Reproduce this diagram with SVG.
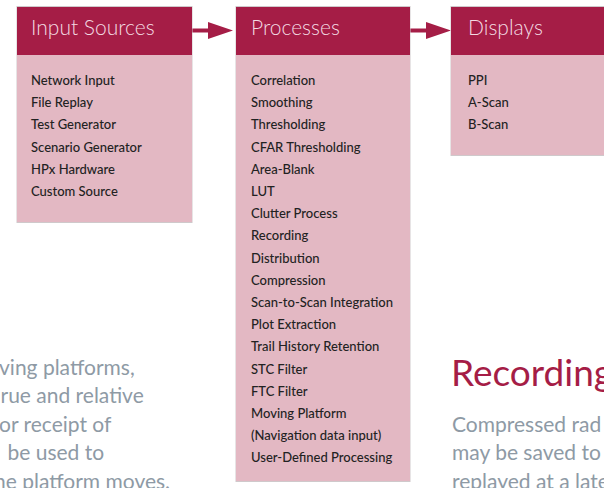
<svg xmlns="http://www.w3.org/2000/svg" width="604" height="488" viewBox="0 0 604 488">
<style>
.shadow{fill:#cfc9cb}
.hdr{fill:#a51d46}
.body{fill:#e3b8c3}
.ht{font-family:Lato,"Liberation Sans",sans-serif;font-weight:300;font-size:21px;fill:#f3dbe2}
.it{font-family:Lato,"Liberation Sans",sans-serif;font-weight:500;font-size:13px;fill:#222}
.conn{stroke:#a51d46;stroke-width:4;fill:none}
.head{fill:#a51d46}
.para{font-family:Lato,"Liberation Sans",sans-serif;font-size:21px;fill:#8e9aa5}
.h2{font-family:Lato,"Liberation Sans",sans-serif;font-size:37px;fill:#a51d46}
</style>
<rect width="604" height="488" fill="#fff"/>
<g id="connectors">
<line class="conn" x1="192" y1="30.5" x2="209" y2="30.5"/>
<polygon class="head" points="208,22 233,30.5 208,39"/>
<line class="conn" x1="410" y1="30.5" x2="427" y2="30.5"/>
<polygon class="head" points="426,22 451,30.5 426,39"/>
</g>
<g id="input-sources">
<rect class="shadow" x="16.5" y="6" width="176" height="217"/>
<rect class="hdr" x="17" y="7" width="175" height="48"/>
<rect class="body" x="17" y="55" width="175" height="167"/>
<text class="ht" x="31" y="35">Input Sources</text>
<text class="it" x="31" y="85">Network Input</text>
<text class="it" x="31" y="107.2">File Replay</text>
<text class="it" x="31" y="129.4">Test Generator</text>
<text class="it" x="31" y="151.6">Scenario Generator</text>
<text class="it" x="31" y="173.8">HPx Hardware</text>
<text class="it" x="31" y="196">Custom Source</text>
</g>
<g id="processes">
<rect class="shadow" x="235.5" y="6" width="175" height="476"/>
<rect class="hdr" x="236" y="7" width="174" height="48"/>
<rect class="body" x="236" y="55" width="174" height="426"/>
<text class="ht" x="251" y="35">Processes</text>
<text class="it" x="251" y="85">Correlation</text>
<text class="it" x="251" y="107.2">Smoothing</text>
<text class="it" x="251" y="129.4">Thresholding</text>
<text class="it" x="251" y="151.6">CFAR Thresholding</text>
<text class="it" x="251" y="173.8">Area-Blank</text>
<text class="it" x="251" y="196">LUT</text>
<text class="it" x="251" y="218.2">Clutter Process</text>
<text class="it" x="251" y="240.4">Recording</text>
<text class="it" x="251" y="262.6">Distribution</text>
<text class="it" x="251" y="284.8">Compression</text>
<text class="it" x="251" y="307">Scan-to-Scan Integration</text>
<text class="it" x="251" y="329.2">Plot Extraction</text>
<text class="it" x="251" y="351.4">Trail History Retention</text>
<text class="it" x="251" y="373.6">STC Filter</text>
<text class="it" x="251" y="395.8">FTC Filter</text>
<text class="it" x="251" y="418">Moving Platform</text>
<text class="it" x="251" y="440.2">(Navigation data input)</text>
<text class="it" x="251" y="462.4">User-Defined Processing</text>
</g>
<g id="displays">
<rect class="shadow" x="450.5" y="6" width="154" height="150"/>
<rect class="hdr" x="451" y="7" width="153" height="48"/>
<rect class="body" x="451" y="55" width="153" height="100"/>
<text class="ht" x="468" y="35">Displays</text>
<text class="it" x="468" y="85">PPI</text>
<text class="it" x="468" y="107.2">A-Scan</text>
<text class="it" x="468" y="129.4">B-Scan</text>
</g>
<g id="left-paragraph">
<text class="para" x="-1" y="374.5">ving platforms,</text>
<text class="para" x="0.5" y="403">rue and relative</text>
<text class="para" x="-1" y="431.5">or receipt of</text>
<text class="para" x="7.5" y="460">be used to</text>
<text class="para" x="-6" y="488.5">he platform moves.</text>
</g>
<g id="right-column">
<text class="h2" x="451" y="385.5">Recording</text>
<text class="para" x="452" y="431.5">Compressed rad</text>
<text class="para" x="452" y="460">may be saved to</text>
<text class="para" x="452" y="488.5">replayed at a late</text>
</g>
</svg>
